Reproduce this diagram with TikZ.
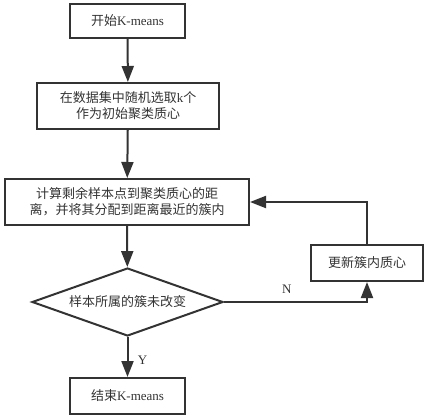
\documentclass[tikz,border=0pt]{standalone}
\usepackage{fontspec}
\setmainfont{Liberation Serif}
\newfontfamily\cjk{Noto Sans CJK SC}
\usetikzlibrary{arrows.meta,shapes.geometric}
\begin{document}
\begin{tikzpicture}[x=1pt,y=-1pt,
  line width=2pt,
  every node/.style={font=\fontsize{13}{16}\selectfont, text=black!80},
  box/.style={draw=black!80, rectangle, inner sep=0pt, align=center},
  dia/.style={draw=black!80, diamond, aspect=2.8, inner sep=0pt},
  arr/.style={draw=black!80, -{Triangle[length=16pt,width=12pt]}},
  lab/.style={font=\fontsize{13}{16}\selectfont}]
\useasboundingbox (0,0) rectangle (425,417);
\node[box, minimum width=115pt, minimum height=34pt] (start) at (127.5,21) {{\cjk 开始}K-means};
\node[box, minimum width=182pt, minimum height=46pt] (init) at (128,106) {{\cjk 在数据集中随机选取}k{\cjk 个}\\{\cjk 作为初始聚类质心}};
\node[box, minimum width=244pt, minimum height=46pt] (assign) at (127,202) {{\cjk 计算剩余样本点到聚类质心的距}\\{\cjk 离，并将其分配到距离最近的簇内}};
\node[dia, minimum width=191pt, minimum height=68pt] (cond) at (127.5,302) {{\cjk 样本所属的簇未改变}};
\node[box, minimum width=115pt, minimum height=36pt] (end) at (127.5,396) {{\cjk 结束}K-means};
\node[box, minimum width=112pt, minimum height=36pt] (upd) at (367,263) {{\cjk 更新簇内质心}};
\draw[arr] (start) -- (init);
\draw[arr] (init) -- (assign);
\draw[arr] (assign) -- (cond);
\draw[arr] (cond) -- node[lab, right, xshift=6pt, yshift=-3pt] {Y} (end);
\draw[arr] (cond.east) -| node[lab, pos=0.22, above, yshift=4pt] {N} (upd.south);
\draw[arr] (upd.north) |- (assign.east);
\end{tikzpicture}
\end{document}
